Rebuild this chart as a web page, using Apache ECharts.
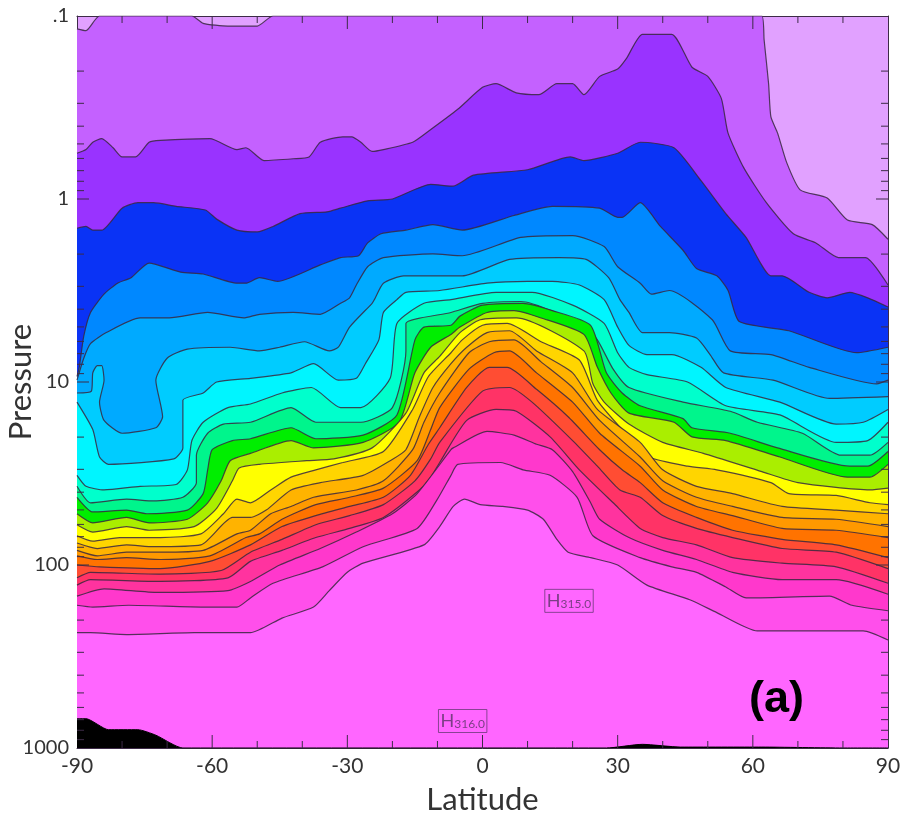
<!DOCTYPE html>
<html><head><meta charset="utf-8">
<style>html,body{margin:0;padding:0;background:#fff}#c{width:903px;height:814px}</style>
<script src="https://cdn.jsdelivr.net/npm/echarts@6/dist/echarts.min.js"></script>
</head><body><div id="c"></div>
<script>
// Each contour: [latitude, log10(pressure)], ordered from the stratopause downward.
const contour01=[[-90,-0.93],[-88,-0.92],[-85,-1],[-64.5,-1],[-62,-0.96],[-56.5,-0.945],[-50,-0.945],[-46.5,-1],[62,-1],[62.5,-0.87],[63.5,-0.63],[64,-0.45],[65.5,-0.36],[67.5,-0.2],[70.5,-0.05],[76.5,-0.005],[81,0.115],[86.5,0.14],[90,0.22]];
const contour02=[[-90,-0.25],[-88,-0.27],[-86.5,-0.31],[-84.5,-0.33],[-82,-0.28],[-80,-0.23],[-77,-0.23],[-74,-0.31],[-71.5,-0.32],[-60.5,-0.33],[-54.5,-0.27],[-52.5,-0.28],[-48.5,-0.21],[-42,-0.22],[-38.5,-0.23],[-36,-0.31],[-31,-0.34],[-29,-0.34],[-27,-0.31],[-24.5,-0.26],[-22,-0.27],[-15.5,-0.31],[-12,-0.37],[-5.5,-0.49],[0,-0.61],[3,-0.63],[7.5,-0.58],[12.5,-0.57],[16.5,-0.63],[20,-0.63],[22.5,-0.57],[26,-0.67],[30,-0.71],[32,-0.77],[35.5,-0.9],[42,-0.9],[46.5,-0.72],[50,-0.67],[53,-0.55],[54.5,-0.36],[58,-0.17],[63,0.02],[69,0.19],[74,0.24],[79,0.32],[85,0.32],[90,0.47]];
const contour03=[[-90,0.16],[-88,0.15],[-86.5,0.17],[-84.5,0.17],[-80,0.05],[-76.5,0.02],[-73,0.02],[-68,0.04],[-61.5,0.06],[-59,0.11],[-54.5,0.17],[-50,0.18],[-46.5,0.15],[-40.5,0.08],[-34.5,0.07],[-31.5,0.05],[-25.5,0.01],[-20,0],[-11.5,-0.08],[-6.5,-0.07],[-2,-0.13],[10,-0.16],[19.5,-0.23],[22.5,-0.21],[30,-0.25],[35,-0.31],[42.5,-0.28],[48.5,-0.1],[54,0.08],[58.5,0.21],[64,0.42],[66.5,0.42],[72.5,0.51],[76.5,0.54],[81.5,0.51],[85.5,0.54],[90,0.59]];
const contour04=[[-90,0.97],[-89.5,0.92],[-88.5,0.75],[-87,0.62],[-84,0.52],[-81,0.46],[-78,0.43],[-74,0.35],[-67,0.4],[-62,0.41],[-54.5,0.46],[-52.5,0.46],[-49.5,0.43],[-45.5,0.45],[-36,0.36],[-31.5,0.32],[-27.5,0.31],[-25.5,0.24],[-22.5,0.19],[-17,0.17],[-11,0.14],[-4.5,0.17],[7,0.09],[15.5,0.04],[26,0.05],[30,0.1],[31,0.1],[35,0.02],[39.5,0.15],[44.5,0.28],[47.5,0.38],[52,0.42],[54.5,0.5],[57,0.67],[68,0.72],[83,0.84],[90,0.81]];
const contour05=[[-90,0.99],[-88.5,0.87],[-87,0.79],[-83.5,0.73],[-76,0.65],[-69.5,0.65],[-61,0.62],[-53,0.65],[-49.5,0.63],[-42,0.62],[-36,0.63],[-31.5,0.57],[-29.5,0.54],[-28,0.47],[-25.5,0.37],[-22,0.32],[-11,0.3],[-4.5,0.31],[8.5,0.21],[20,0.2],[27,0.26],[30,0.37],[35,0.46],[37.5,0.52],[41.5,0.5],[51,0.66],[55,0.83],[64,0.85],[72.5,0.92],[87.5,1.01],[90,0.99]];
const contour06=[[-90,1.06],[-86.8,1.05],[-86.5,0.95],[-85.5,0.91],[-84.5,0.91],[-84,0.99],[-85,1.11],[-84,1.21],[-80,1.28],[-72.5,1.25],[-71,1.19],[-72.5,0.99],[-70,0.87],[-65.5,0.82],[-56,0.81],[-49.5,0.83],[-45,0.81],[-39.5,0.78],[-34,0.83],[-32,0.81],[-29.5,0.7],[-24.5,0.57],[-24,0.55],[-22,0.46],[-17.5,0.42],[-10,0.42],[-4.5,0.42],[6,0.33],[17,0.32],[23,0.33],[28,0.43],[30.5,0.55],[32.5,0.62],[35.5,0.73],[41.5,0.73],[47.5,0.76],[50.5,0.85],[53.5,0.95],[64.5,0.99],[77,1.09],[90,1.08]];
const contour07=[[-90,1.11],[-86.5,1.26],[-85,1.41],[-83,1.45],[-68.5,1.42],[-66.5,1.36],[-66.5,1.1],[-62,1.06],[-59,1],[-51.5,0.98],[-42.5,0.95],[-37.5,0.9],[-32,0.99],[-28,0.98],[-26,0.9],[-23,0.77],[-22,0.62],[-19,0.55],[-17,0.51],[-9.5,0.5],[1,0.46],[10,0.45],[15.5,0.45],[21.5,0.47],[27,0.55],[30,0.7],[32.5,0.8],[36.5,0.85],[42,0.85],[48.5,0.92],[54,1.03],[66,1.11],[78.5,1.23],[84.5,1.22],[90,1.15]];
const contour08=[[-90,1.51],[-88,1.57],[-84,1.59],[-76,1.57],[-68,1.56],[-65.5,1.48],[-64.5,1.32],[-62,1.22],[-56.5,1.14],[-51.5,1.12],[-44.5,1.06],[-38,1.03],[-31.5,1.14],[-27,1.14],[-20.5,0.98],[-19,0.68],[-13,0.57],[-7,0.55],[3,0.51],[11,0.51],[20,0.58],[27,0.68],[30,0.84],[32.5,0.92],[36.5,0.96],[45.5,1],[54,1.13],[66,1.18],[78.5,1.33],[85.5,1.32],[90,1.22]];
const contour09=[[-90,1.57],[-87,1.66],[-79,1.64],[-73,1.65],[-66.5,1.63],[-63.5,1.55],[-63.5,1.4],[-61,1.28],[-57.5,1.23],[-51.5,1.22],[-42.5,1.14],[-37,1.22],[-27,1.22],[-20,1.14],[-17,0.83],[-17,0.68],[-7,0.62],[0,0.57],[8.5,0.56],[22.5,0.69],[25.5,0.77],[29,0.93],[32.5,1.03],[44.5,1.11],[55,1.16],[61,1.22],[71,1.28],[79.5,1.4],[86,1.4],[90,1.33]];
const contour10=[[-90,1.63],[-86.5,1.71],[-79,1.7],[-74.5,1.72],[-65.5,1.7],[-62,1.61],[-61,1.48],[-60,1.37],[-55.5,1.32],[-51.5,1.31],[-42.5,1.25],[-37,1.31],[-26.5,1.29],[-19,1.18],[-15,0.77],[-13,0.7],[-7,0.69],[-5,0.64],[0,0.58],[9,0.57],[15.5,0.61],[24,0.69],[27.5,0.95],[31,1.06],[35,1.13],[44.5,1.2],[46.5,1.25],[55,1.28],[65.5,1.36],[81.5,1.46],[85.5,1.46],[90,1.38]];
const contour11=[[-90,1.72],[-86.5,1.77],[-79,1.74],[-74,1.77],[-65.5,1.75],[-61,1.66],[-58,1.54],[-56,1.43],[-51.5,1.39],[-42.5,1.32],[-37.5,1.36],[-26.5,1.33],[-18.5,1.22],[-15,0.95],[-11.5,0.81],[-7,0.74],[-5,0.7],[1,0.62],[7,0.61],[13,0.65],[22.5,0.74],[25.5,0.92],[28.5,1.06],[32.5,1.17],[42.5,1.22],[46.5,1.3],[54,1.32],[66,1.41],[81,1.52],[86,1.52],[90,1.45]];
const contour12=[[-90,1.78],[-86.5,1.82],[-79,1.79],[-74,1.81],[-64,1.79],[-59,1.69],[-55.5,1.54],[-54,1.47],[-49.5,1.45],[-39,1.43],[-33,1.42],[-24.5,1.36],[-17,1.17],[-13,0.95],[-9.5,0.86],[-5,0.73],[-0.5,0.66],[7.5,0.65],[22.5,0.83],[24.5,1.01],[27,1.11],[32.5,1.23],[40,1.33],[49,1.39],[62,1.49],[70,1.55],[86,1.59],[90,1.58]];
const contour13=[[-90,1.84],[-86.5,1.87],[-80.5,1.85],[-71.5,1.85],[-62.5,1.83],[-57.5,1.72],[-54.5,1.64],[-51.5,1.66],[-47,1.59],[-42.5,1.52],[-37,1.48],[-31,1.44],[-22,1.38],[-15.5,1.15],[-12,0.97],[-7,0.84],[-4.5,0.77],[0,0.69],[5.5,0.68],[13,0.78],[21.5,0.88],[25.5,1.1],[32.5,1.3],[37,1.41],[45.5,1.46],[52,1.48],[64,1.55],[68,1.61],[78.5,1.62],[86,1.66],[90,1.67]];
const contour14=[[-90,1.88],[-85.5,1.91],[-79,1.89],[-73,1.9],[-62.5,1.89],[-55.5,1.74],[-51.5,1.74],[-48,1.7],[-42.5,1.59],[-36,1.55],[-26.5,1.51],[-20.5,1.43],[-17,1.37],[-14,1.19],[-11,1.03],[-7,0.9],[-3.5,0.81],[1,0.73],[6,0.72],[12,0.83],[20,0.95],[25.5,1.15],[35,1.33],[40,1.48],[47.5,1.57],[55.5,1.61],[66.5,1.68],[78.5,1.7],[90,1.72]];
const contour15=[[-90,1.92],[-85.5,1.95],[-79,1.93],[-71.5,1.93],[-62,1.92],[-54.5,1.83],[-51.5,1.81],[-47,1.72],[-42.5,1.68],[-37.5,1.63],[-28,1.59],[-22,1.54],[-15.5,1.37],[-13,1.22],[-9.5,1.06],[-3,0.84],[1.5,0.78],[7,0.77],[13,0.89],[20,1.03],[26,1.21],[35,1.41],[40,1.54],[47.5,1.63],[55.5,1.68],[66.5,1.74],[78.5,1.75],[90,1.79]];
const contour16=[[-90,1.95],[-85.5,1.97],[-79,1.96],[-71.5,1.97],[-60.5,1.95],[-52.5,1.85],[-49.5,1.83],[-44.5,1.75],[-37,1.67],[-29.5,1.63],[-22,1.58],[-14.5,1.43],[-11.5,1.26],[-9.5,1.14],[-3,0.93],[2.5,0.84],[6,0.83],[12,0.95],[20,1.11],[26,1.28],[35,1.46],[40,1.59],[47.5,1.68],[55.5,1.73],[66.5,1.8],[78.5,1.81],[90,1.85]];
const contour17=[[-90,2],[-85,2.01],[-71.5,2.02],[-60.5,1.98],[-51.5,1.89],[-44.5,1.79],[-37,1.73],[-29.5,1.68],[-22,1.63],[-16,1.51],[-12,1.34],[-9.5,1.25],[-3.5,1.03],[1.5,0.92],[5.5,0.92],[12,1.04],[19,1.19],[26,1.37],[31,1.48],[35,1.55],[40,1.66],[47.5,1.74],[55.5,1.81],[66.5,1.86],[78.5,1.89],[90,1.96]];
const contour18=[[-90,2.07],[-87,2.04],[-71.5,2.05],[-58,2.03],[-51.5,1.93],[-44.5,1.86],[-37,1.78],[-29.5,1.73],[-22,1.67],[-15,1.54],[-11.5,1.42],[-9.5,1.33],[0,1.05],[6,1.03],[11,1.11],[20,1.32],[25.5,1.46],[30.5,1.59],[35,1.63],[40,1.73],[47.5,1.8],[55.5,1.85],[66.5,1.91],[78.5,1.93],[90,2.02]];
const contour19=[[-90,2.11],[-87,2.08],[-71.5,2.09],[-56.5,2.07],[-51.5,1.98],[-44.5,1.92],[-37,1.85],[-29.5,1.8],[-22,1.74],[-14,1.59],[-11.5,1.52],[-9.5,1.44],[-3.5,1.21],[3,1.15],[7.5,1.16],[15,1.3],[21.5,1.48],[29,1.66],[35,1.8],[40,1.85],[47.5,1.89],[55.5,1.96],[66.5,1.99],[78.5,2.01],[90,2.1]];
const contour20=[[-90,2.17],[-84,2.13],[-72,2.15],[-56.5,2.14],[-51.5,2.09],[-45,2],[-36,1.91],[-28,1.82],[-20,1.72],[-14.5,1.61],[-7,1.37],[-6.5,1.36],[1,1.27],[7,1.29],[12,1.34],[15.5,1.37],[20,1.49],[24,1.66],[26,1.75],[32.5,1.85],[40,1.92],[47.5,1.97],[55.5,2.04],[66.5,2.08],[78.5,2.08],[90,2.16]];
const contour21=[[-90,2.22],[-86.5,2.23],[-78.5,2.22],[-62,2.23],[-54.5,2.23],[-51.5,2.18],[-46.5,2.1],[-35.5,2.01],[-26.5,1.9],[-14.5,1.8],[-10,1.64],[-7,1.51],[-5.5,1.45],[4,1.44],[9,1.48],[15,1.51],[21,1.63],[24.5,1.84],[35,1.96],[42,2.01],[47.5,2.04],[54,2.12],[58.5,2.18],[77,2.17],[82,2.22],[90,2.25]];
const contour22=[[-90,2.37],[-87,2.37],[-79,2.38],[-64,2.37],[-56,2.37],[-51.5,2.37],[-44.5,2.29],[-37.5,2.23],[-34,2.14],[-30,2.04],[-26.5,1.99],[-13,1.89],[-9.5,1.79],[-6.5,1.68],[-4,1.64],[-0.5,1.67],[4.5,1.68],[10,1.7],[13.5,1.75],[16.5,1.86],[19,1.93],[24,1.96],[30,2],[36.5,2.11],[46,2.19],[52,2.26],[61,2.36],[74,2.36],[84.5,2.36],[90,2.41]];
const groundLine=[[-90,2.84],[-88,2.84],[-83,2.9],[-76.5,2.9],[-72.5,2.93],[-66.5,3],[27.5,3],[35.5,2.98],[44,2.995],[62,2.995],[80,3],[90,3]];
const contours=[contour01,contour02,contour03,contour04,contour05,contour06,contour07,contour08,contour09,contour10,contour11,contour12,contour13,contour14,contour15,contour16,contour17,contour18,contour19,contour20,contour21,contour22];

const topBandColor='#E1A1FF';
const bandColors=['#C461FF','#9933FF','#0A33F5','#0088FF','#00AAFF','#00CCFF','#00F5FF','#00FFCC','#00F58C','#00EE00','#AAEE00','#FFFF00','#FFD500','#FFB300','#FF9900','#FF7300','#FF4D33','#FF3366','#FF339F','#FF38CC','#FF4FEB','#FF66FF'];
const latMajor=30, latMin=-90, latMax=90;
const pressureMin=0.1, pressureMax=1000;
const latMajorTicks=[-60,-30,0,30,60];
const latMinorTicks=[-80,-70,-50,-40,-20,-10,10,20,40,50,70,80];
const pressureMajorTicks=[1,10,100];
const pressureMinorTicks=[0.2,0.3,0.4,0.5,0.6,0.7,0.8,0.9,2,3,4,5,6,7,8,9,20,30,40,50,60,70,80,90,200,300,400,500,600,700,800,900];
const highLabels=[{lat:19.2,p:157,text:'315.0'},{lat:-4.4,p:712,text:'316.0'}];

const lineColor='#3d2b47';
const thin='Lato, "Open Sans", sans-serif';
const toP=arr=>arr.map(d=>[d[0],Math.pow(10,d[1])]);
const series=contours.map((c,i)=>({
  type:'line',data:toP(c),showSymbol:false,silent:true,animation:false,smooth:0.2,
  lineStyle:{color:'#38283f',width:1.2,opacity:.85},
  areaStyle:{color:bandColors[i],opacity:1,origin:'end'},
  z:2+i*0.01
}));
series.push({type:'line',data:toP(groundLine),showSymbol:false,silent:true,animation:false,smooth:0.2,
  lineStyle:{color:'#000',width:1},areaStyle:{color:'#000',opacity:1,origin:'end'},z:3});
series.push({type:'scatter',symbolSize:0,silent:true,animation:false,z:6,
  data:highLabels.map(h=>({value:[h.lat,h.p],text:h.text})),
  label:{show:true,position:'inside',formatter:p=>'{h|H}{s|'+p.data.text+'}',
    borderColor:'#6b3a78',borderWidth:1,padding:[3,2,2,2],
    rich:{h:{fontFamily:thin,fontSize:18,color:'#5a3566',verticalAlign:'top'},s:{fontFamily:thin,fontSize:12,color:'#5a3566',verticalAlign:'bottom',padding:[6,0,0,0]}}}});

const axisBase={axisLine:{show:true,onZero:false,lineStyle:{color:lineColor,width:1}},axisTick:{show:false},splitLine:{show:false},nameMoveOverlap:false};
const chart=echarts.init(document.getElementById('c'),null,{renderer:'canvas'});
chart.setOption({
  animation:false,backgroundColor:'#fff',
  title:{text:'(a)',left:744,top:672,textStyle:{fontFamily:'"Liberation Sans",Arial,sans-serif',fontWeight:'bold',fontSize:45,color:'#000'}},
  grid:{left:77,right:15,top:16,bottom:66,outerBoundsMode:'none',containLabel:false,show:true,backgroundColor:topBandColor,borderWidth:0},
  xAxis:[
    Object.assign({},axisBase,{type:'value',min:latMin,max:latMax,interval:latMajor,position:'bottom',
      axisLabel:{fontFamily:thin,fontSize:21,color:'#333',margin:8,showMinLabel:true,showMaxLabel:true},
      name:'Latitude',nameLocation:'middle',nameGap:36,nameTextStyle:{fontFamily:thin,fontSize:31,color:'#333'}}),
    Object.assign({},axisBase,{type:'value',min:latMin,max:latMax,interval:latMajor,position:'top',axisLabel:{show:false}})
  ],
  yAxis:[
    Object.assign({},axisBase,{type:'log',logBase:10,inverse:true,min:pressureMin,max:pressureMax,position:'left',
      axisLabel:{fontFamily:thin,fontSize:20,color:'#333',margin:8,formatter:v=>v<1?'.1':String(Math.round(v))},
      name:'Pressure',nameLocation:'middle',nameGap:41,nameRotate:90,nameTextStyle:{fontFamily:thin,fontSize:31,color:'#333'}}),
    Object.assign({},axisBase,{type:'log',logBase:10,inverse:true,min:pressureMin,max:pressureMax,position:'right',axisLabel:{show:false}})
  ],
  series
});

// Tick marks placed through the chart's own scales; top and bottom edges come from the decade spacing.
const toPx=(lat,p)=>chart.convertToPixel({xAxisIndex:0,yAxisIndex:0},[lat,p]);
const y1=toPx(0,1)[1], decade=toPx(0,10)[1]-y1;
const yTop=y1-decade, yBottom=y1+3*decade;
const tickEl=(x1,y1,x2,y2)=>({type:'rect',silent:true,z:50,
  shape:{x:Math.min(x1,x2)-(x1===x2?0.5:0),y:Math.min(y1,y2)-(y1===y2?0.5:0),width:Math.max(Math.abs(x2-x1),1),height:Math.max(Math.abs(y2-y1),1)},
  style:{fill:lineColor}});
const els=[];
function addLat(list,len){list.forEach(l=>{const x=toPx(l,1)[0];
  els.push(tickEl(x,yTop,x,yTop+len),tickEl(x,yBottom,x,yBottom-len));});}
function addP(list,len){list.forEach(p=>{const L=toPx(latMin,p),R=toPx(latMax,p);
  els.push(tickEl(L[0],L[1],L[0]+len,L[1]),tickEl(R[0],R[1],R[0]-len,R[1]));});}
addLat(latMinorTicks,7);addLat(latMajorTicks,13);addP(pressureMinorTicks,7);addP(pressureMajorTicks,12);
chart.setOption({graphic:{elements:els}});
</script></body></html>
